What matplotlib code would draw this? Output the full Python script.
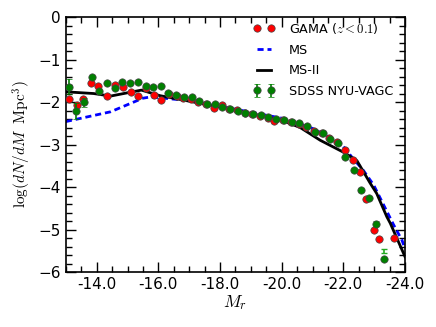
import numpy as np
import matplotlib
matplotlib.use("Agg")
import matplotlib.pyplot as plt
from matplotlib.ticker import MultipleLocator, FuncFormatter

plt.rcParams['mathtext.fontset'] = 'cm'
plt.rcParams['font.family'] = ['DejaVu Sans']

# GAMA (z<0.1)
gama_x = [-13.10, -13.35, -13.55, -13.80, -14.05, -14.35, -14.60, -14.85, -15.10, -15.35,
          -15.60, -15.85, -16.10, -16.35, -16.60, -16.80, -17.05, -17.30, -17.55, -17.80,
          -18.05, -18.30, -18.55, -18.80, -19.05, -19.30, -19.55, -19.75, -20.05, -20.30,
          -20.55, -20.80, -21.05, -21.30, -21.55, -21.80, -22.05, -22.30, -22.55, -22.75,
          -22.98, -23.16, -23.63]
gama_y = [-1.93, -2.07, -1.93, -1.55, -1.62, -1.85, -1.60, -1.65, -1.77, -1.85,
          -1.68, -1.84, -1.96, -1.82, -1.86, -1.90, -1.93, -1.99, -2.04, -2.13,
          -2.07, -2.16, -2.18, -2.25, -2.28, -2.32, -2.37, -2.44, -2.42, -2.47,
          -2.52, -2.58, -2.68, -2.74, -2.85, -2.95, -3.12, -3.36, -3.65, -4.28,
          -5.00, -5.23, -5.19]

# SDSS NYU-VAGC
sdss_x = [-13.09, -13.33, -13.59, -13.84, -14.08, -14.33, -14.59, -14.83, -15.08, -15.34,
          -15.59, -15.83, -16.08, -16.32, -16.58, -16.83, -17.08, -17.33, -17.58, -17.83,
          -18.07, -18.33, -18.58, -18.82, -19.07, -19.32, -19.57, -19.82, -20.06, -20.33,
          -20.57, -20.81, -21.08, -21.33, -21.57, -21.82, -22.06, -22.33, -22.58, -22.82,
          -23.06, -23.32]
sdss_y = [-1.64, -2.21, -2.01, -1.42, -1.74, -1.55, -1.66, -1.53, -1.55, -1.52,
          -1.62, -1.65, -1.62, -1.78, -1.84, -1.88, -1.89, -1.97, -2.05, -2.05,
          -2.12, -2.16, -2.22, -2.26, -2.28, -2.31, -2.36, -2.40, -2.42, -2.46,
          -2.50, -2.56, -2.71, -2.74, -2.88, -2.97, -3.30, -3.60, -4.07, -4.25,
          -4.86, -5.70]
sdss_err = [0.17, 0.19, 0.10, 0.03, 0.03, 0.03, 0.03, 0.03, 0.03, 0.03,
            0.03, 0.03, 0.03, 0.03, 0.03, 0.03, 0.03, 0.03, 0.03, 0.03,
            0.03, 0.03, 0.03, 0.03, 0.03, 0.03, 0.03, 0.03, 0.03, 0.03,
            0.03, 0.03, 0.03, 0.03, 0.03, 0.03, 0.03, 0.04, 0.04, 0.04,
            0.05, 0.05]
# error-bar centres (last one is drawn offset from its marker in the original)
sdss_bar_y = sdss_y[:-1] + [-5.50]

# MS (Millennium) model
ms_x = [-13.0, -14.45, -15.5, -15.75, -16.2, -17.0, -18.0, -19.0, -20.0, -21.0,
        -21.6, -22.0, -22.27, -22.64, -22.98, -23.36, -23.63, -23.9, -24.0]
ms_y = [-2.46, -2.23, -1.91, -1.88, -1.91, -1.97, -2.10, -2.24, -2.38, -2.62,
        -2.85, -3.05, -3.29, -3.60, -3.95, -4.50, -4.89, -5.25, -5.45]

# MS-II model
ms2_x = [-13.0, -13.9, -14.45, -15.45, -16.05, -17.0, -18.0, -19.0, -20.0, -20.6,
         -21.25, -22.0, -22.44, -22.87, -23.08, -23.41, -23.52, -24.0]
ms2_y = [-1.76, -1.80, -1.86, -1.72, -1.85, -1.98, -2.12, -2.27, -2.43, -2.60,
         -2.90, -3.18, -3.38, -3.91, -4.15, -4.70, -4.85, -5.64]

xticks = [-14.0, -16.0, -18.0, -20.0, -22.0, -24.0]
yticks = [0, -1, -2, -3, -4, -5, -6]

fig = plt.figure(figsize=(4.36, 3.27), dpi=100)
ax = fig.add_axes([0.151, 0.168, 0.778, 0.780])

MS = 5.3
ax.plot(ms_x, ms_y, color='blue', ls=(0, (2.2, 1.4)), lw=2.0, label='MS', zorder=2)
ax.plot(ms2_x, ms2_y, color='black', ls='-', lw=2.0, label='MS-II', zorder=2)

ax.plot(gama_x, gama_y, 'o', color='red', mec='#444444', mew=0.5, ms=MS,
        label=r'GAMA ($z<0.1$)', zorder=3)
ax.errorbar(sdss_x[:-1], sdss_y[:-1], yerr=sdss_err[:-1], fmt='o', color='green',
            ecolor='green', mec='#444444', mew=0.5, ms=MS, elinewidth=1.2, capsize=2,
            label='SDSS NYU-VAGC', zorder=4)
ax.plot(sdss_x[-1:], sdss_y[-1:], 'o', color='green', mec='#444444', mew=0.5, ms=MS, zorder=4)
ax.errorbar(sdss_x[-1:], sdss_bar_y[-1:], yerr=sdss_err[-1:], fmt='none',
            ecolor='#22aa22', elinewidth=1.2, capsize=2, zorder=4)

ax.set_xlim(-13.0, -24.0)
ax.set_ylim(-6.0, 0.0)
ax.set_xticks(xticks)
ax.xaxis.set_major_formatter(FuncFormatter(lambda v, p: '%.1f' % v))
ax.set_yticks(yticks)
ax.xaxis.set_minor_locator(MultipleLocator(0.5))
ax.yaxis.set_minor_locator(MultipleLocator(0.2))
ax.tick_params(which='both', direction='in', top=True, right=True, labelsize=11, width=1)
ax.tick_params(which='major', length=7)
ax.tick_params(which='minor', length=4)
for s in ax.spines.values():
    s.set_linewidth(1.2)

ax.set_xlabel(r'$M_r$', fontsize=12.5, labelpad=1)
ax.set_ylabel(r'$\log(dN/dM\ \ \mathrm{Mpc}^3)$', fontsize=11, labelpad=4)

handles, labels = ax.get_legend_handles_labels()
order = [labels.index(l) for l in [r'GAMA ($z<0.1$)', 'MS', 'MS-II', 'SDSS NYU-VAGC']]
ax.legend([handles[i] for i in order], [labels[i] for i in order], loc='upper right',
          bbox_to_anchor=(0.976, 1.0),
          frameon=False, numpoints=2, fontsize=9.2, handlelength=1.7, labelspacing=0.6,
          borderaxespad=0.0, handletextpad=1.1, borderpad=0.3)

fig.savefig('out.png', dpi=100)
